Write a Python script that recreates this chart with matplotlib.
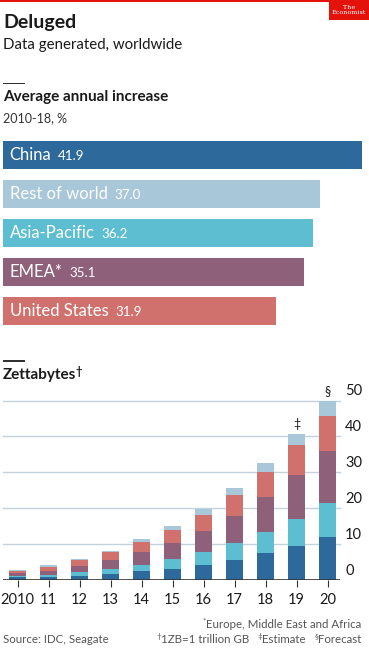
import numpy as np
import matplotlib
matplotlib.use("Agg")
import matplotlib.pyplot as plt
from matplotlib.patches import Rectangle

plt.rcParams['font.family'] = ['Lato', 'DejaVu Sans']

# top panel: average annual increase 2010-18, %
regions = ["China", "Rest of world", "Asia-Pacific", "EMEA*", "United States"]
growth = [41.9, 37.0, 36.2, 35.1, 31.9]
growth_labels = ["41.9", "37.0", "36.2", "35.1", "31.9"]

# bottom panel: zettabytes by region, stacked
years = ["2010", "11", "12", "13", "14", "15", "16", "17", "18", "19", "20"]
china = [0.7, 0.7, 1.1, 1.7, 2.4, 3.1, 4.2, 5.7, 7.6, 9.5, 12.0]
asia_pacific = [0.5, 0.6, 1.0, 1.4, 1.9, 2.7, 3.7, 4.7, 5.9, 7.5, 9.4]
emea = [0.7, 1.2, 1.9, 2.5, 3.4, 4.5, 5.7, 7.4, 9.6, 12.2, 14.6]
united_states = [0.6, 1.1, 1.5, 2.1, 2.9, 3.5, 4.6, 5.8, 6.9, 8.3, 9.8]
rest_of_world = [0.3, 0.5, 0.4, 0.5, 0.8, 1.2, 1.7, 2.1, 2.6, 3.2, 4.1]
yticks = [0, 10, 20, 30, 40, 50]

c_china = "#2d6a9b"
c_row = "#a8c7d9"
c_ap = "#5dbed1"
c_emea = "#8f607a"
c_us = "#d1716e"
bar_colors = [c_china, c_row, c_ap, c_emea, c_us]
dark = "#1a1a1a"
grey = "#555555"

W, H = 369, 650
fig = plt.figure(figsize=(W/100, H/100), dpi=100)
renderer = fig.canvas.get_renderer()

def px(x0, y0, x1, y1):
    # pixel box (top-left origin) -> figure axes rect
    return [x0/W, 1-y1/H, (x1-x0)/W, (y1-y0)/H]

def rule(x0, y0, w, h, color):
    fig.patches.append(Rectangle((x0/W, 1-(y0+h)/H), w/W, h/H, transform=fig.transFigure,
                                 facecolor=color, edgecolor="none", lw=0))

def run_right(x_right, y_base, parts, size, color):
    # lay out (text, superscript) parts right to left on one baseline (pixels)
    xr = x_right
    for s, sup in reversed(parts):
        if sup:
            t = fig.text(xr/W, 1-(y_base-4)/H, s, fontsize=size*0.7, color=color, ha="right", va="baseline")
        else:
            t = fig.text(xr/W, 1-y_base/H, s, fontsize=size, color=color, ha="right", va="baseline")
        bb = t.get_window_extent(renderer)
        xr = xr - bb.width + 0.5

# header
rule(0, 0, W, 2, "#e3120b")
rule(329, 0, 40, 20, "#e3120b")
fig.text(349/W, 1-10/H, "The\nEconomist", color="white", fontsize=4.6, family="DejaVu Serif",
         ha="center", va="center", linespacing=0.9)
fig.text(3/W, 1-28/H, "Deluged", fontsize=14, fontweight="bold", color=dark, va="baseline")
fig.text(3/W, 1-49/H, "Data generated, worldwide", fontsize=10.8, color=dark, va="baseline")

rule(3, 83, 22, 1.2, "#333333")
fig.text(3/W, 1-101/H, "Average annual increase", fontsize=11, fontweight="bold", color=dark, va="baseline")
fig.text(3/W, 1-122/H, "2010-18, %", fontsize=9, color="#333333", va="baseline")

# top bar chart
ax1 = fig.add_axes(px(2.5, 141, 362, 326))
pos = np.arange(len(regions))
ax1.barh(pos, growth, height=0.72, color=bar_colors)
ax1.set_xlim(0, 41.9)
ax1.set_ylim(4.38, -0.36)
ax1.axis("off")
for i in range(len(regions)):
    t = ax1.text(0.82, pos[i], regions[i], color="white", fontsize=12, va="center", ha="left")
    ax1.annotate(growth_labels[i], xy=(1, 0.42), xycoords=t, xytext=(5, 0), textcoords="offset points",
                 color="white", fontsize=9.6, va="center", ha="left")

# bottom section header
rule(3, 360, 22, 2, "#333333")
zt = fig.text(3/W, 1-379/H, "Zettabytes", fontsize=11, fontweight="bold", color=dark, va="baseline")
zb = zt.get_window_extent(renderer)
fig.text((zb.x1 - 1)/W, 1-(379-4)/H, "\u2020", fontsize=8, fontweight="bold", color=dark, va="baseline")

# stacked columns
ax2 = fig.add_axes(px(3, 400.5, 340, 580))
x = np.arange(len(years))
bottom = np.zeros(len(years))
for vals, col in [(china, c_china), (asia_pacific, c_ap), (emea, c_emea), (united_states, c_us), (rest_of_world, c_row)]:
    ax2.bar(x, vals, bottom=bottom, width=0.55, color=col, zorder=3)
    bottom = bottom + np.array(vals)
ax2.set_xlim((3-17.5)/31, (340-17.5)/31)
ax2.set_ylim(0, 50)
for v in yticks[1:]:
    ax2.axhline(v, color="#c3d3de", lw=1, zorder=1, clip_on=False)
ax2.axhline(0, color="#333333", lw=1.2, zorder=4)
for s in ax2.spines.values():
    s.set_visible(False)
ax2.set_yticks([])
ax2.set_xticks(x)
ax2.set_xticklabels(years, fontsize=10.5, color=dark)
ax2.tick_params(axis="x", length=5, width=0.8, color="#333333", pad=4)
for v in yticks:
    ax2.text(1.015, v + 0.6, str(v), transform=ax2.get_yaxis_transform(), fontsize=10.5,
             color=dark, ha="left", va="bottom")
ax2.text(x[9], bottom[9] + 1.2, "\u2021", ha="center", va="bottom", fontsize=9, color=dark)
ax2.text(x[10], bottom[10] + 1.2, "\u00a7", ha="center", va="bottom", fontsize=9, color=dark)

# footnotes
run_right(361, 628, [("*", True), ("Europe, Middle East and Africa", False)], 8.3, grey)
fig.text(3/W, 1-643/H, "Source: IDC, Seagate", fontsize=8.3, color=grey, ha="left", va="baseline")
run_right(361, 643, [("\u2020", True), ("1ZB=1 trillion GB   ", False), ("\u2021", True), ("Estimate   ", False),
                     ("\u00a7", True), ("Forecast", False)], 8.3, grey)

fig.savefig("out.png", dpi=100)
